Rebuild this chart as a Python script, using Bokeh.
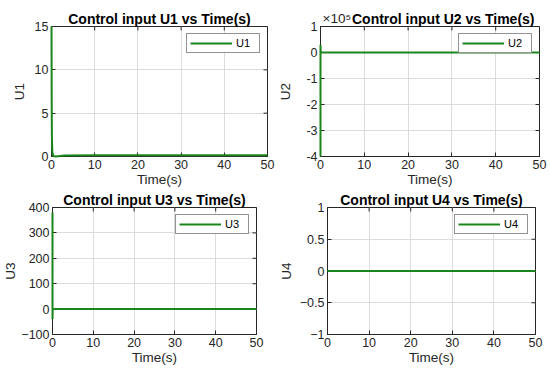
import math
from bokeh.plotting import figure
from bokeh.layouts import column, row
from bokeh.models import (Range1d, FixedTicker, Title, Legend, LegendItem)
from bokeh.embed import file_html
from bokeh.resources import INLINE

# ---- data ----
t1 = [0, 0.05, 0.1, 0.2, 0.4, 1.0, 3.0, 10, 50]
u1 = [15, 6, 2, 0.5, 0.05, 0.0, 0.12, 0.15, 0.15]
t2 = [0, 0, 0.05, 50]
u2 = [-4.0e5, 0.3e5, 0.0, 0.0]
t3 = [0, 0, 0.05, 50]
u3 = [380, -40, 0, 0]
t4 = [0, 50]
u4 = [0, 0]

xticks = [0, 10, 20, 30, 40, 50]
y1ticks = [0, 5, 10, 15]
y2ticks = [-4e5, -3e5, -2e5, -1e5, 0, 1e5]
y2labels = ["-4", "-3", "-2", "-1", "0", "1"]
y3ticks = [-100, 0, 100, 200, 300, 400]
y4ticks = [-1, -0.5, 0, 0.5, 1]

titles = ["Control input U1 vs Time(s)", "Control input U2 vs Time(s)",
          "Control input U3 vs Time(s)", "Control input U4 vs Time(s)"]
names = ["U1", "U2", "U3", "U4"]
u2_exponent = "\u00d710\u2075"

GREEN = "#1a851a"
AX = "#262626"
FONT = "Liberation Sans"


def style_title(tt, size, weight, color):
    tt.text_font = FONT
    tt.text_font_size = size
    tt.text_font_style = weight
    tt.text_color = color


def make(i, t, u, yr, yt, w, h, mb, lab_standoff, overrides=None,
         exponent=None):
    p = figure(width=w, height=h, output_backend="svg", toolbar_location=None,
               x_range=Range1d(0, 50), y_range=Range1d(*yr),
               min_border_left=mb[0], min_border_right=mb[1],
               min_border_top=mb[2], min_border_bottom=mb[3])
    if exponent is None:
        p.title.text = titles[i]
        style_title(p.title, "14px", "bold", "black")
        p.title.align = "center"
        p.title.standoff = 0
    else:
        # exponent text sits on the same line as the (right-shifted) title
        p.title.text = exponent
        style_title(p.title, "13.5px", "normal", AX)
        p.title.align = "left"
        p.title.offset = 2
        p.title.standoff = -35
        main = Title(text=titles[i], align="right", offset=5, standoff=0)
        style_title(main, "14px", "bold", "black")
        p.add_layout(main, "above")
    p.outline_line_color = AX
    p.outline_line_width = 1
    p.background_fill_color = "white"
    p.border_fill_color = "white"
    p.xgrid.ticker = FixedTicker(ticks=xticks)
    p.ygrid.ticker = FixedTicker(ticks=yt)
    p.grid.grid_line_color = "#dcdcdc"
    p.grid.grid_line_width = 1
    r = p.line(t, u, line_color=GREEN, line_width=2, level="overlay")
    # tick marks on the top and right edges (inside the box)
    p.scatter([50] * len(yt), yt, marker="dash", size=8, line_color=AX,
              line_width=1)
    p.scatter(xticks, [yr[1]] * len(xticks), marker="dash", size=8,
              angle=math.pi / 2, line_color=AX, line_width=1)
    for ax in (p.xaxis[0], p.yaxis[0]):
        ax.major_label_text_font = FONT
        ax.major_label_text_font_size = "12.5px"
        ax.major_label_text_color = AX
        ax.axis_label_text_font = FONT
        ax.axis_label_text_font_size = "13.5px"
        ax.axis_label_text_font_style = "normal"
        ax.axis_label_text_color = AX
        ax.major_tick_in = 4
        ax.major_tick_out = 0
        ax.minor_tick_line_color = None
        ax.axis_line_color = AX
        ax.major_tick_line_color = AX
        ax.major_label_standoff = 3
    p.xaxis.ticker = FixedTicker(ticks=xticks)
    p.yaxis.ticker = FixedTicker(ticks=yt)
    if overrides:
        p.yaxis.major_label_overrides = overrides
    p.xaxis.axis_label = "Time(s)"
    p.xaxis.axis_label_standoff = 0
    p.yaxis.axis_label = names[i]
    p.yaxis.axis_label_standoff = lab_standoff
    leg = Legend(items=[LegendItem(label=names[i], renderers=[r])],
                 location="top_right", margin=7, padding=3, spacing=0,
                 label_text_font=FONT, label_text_font_size="11px",
                 label_text_color="black", label_standoff=4,
                 glyph_width=42, glyph_height=12, label_height=12,
                 border_line_color=AX, border_line_width=1,
                 background_fill_color="white", background_fill_alpha=1)
    p.add_layout(leg, "center")
    return p


p1 = make(0, t1, u1, (0, 15), y1ticks, 275, 189, (51, 8, 26, 33), 5)
p2 = make(1, t2, u2, (-4e5, 1e5), y2ticks, 275, 189, (43, 11, 26, 33), 10,
          overrides={v: s for v, s in zip(y2ticks, y2labels)},
          exponent=u2_exponent)
p3 = make(2, t3, u3, (-100, 400), y3ticks, 275, 178, (51, 19, 16, 33), 0)
p4 = make(3, t4, u4, (-1, 1), y4ticks, 275, 178, (44, 15, 16, 33), 3)

layout = column(row(p1, p2), row(p3, p4))
open("out.html", "w").write(file_html(layout, INLINE))
